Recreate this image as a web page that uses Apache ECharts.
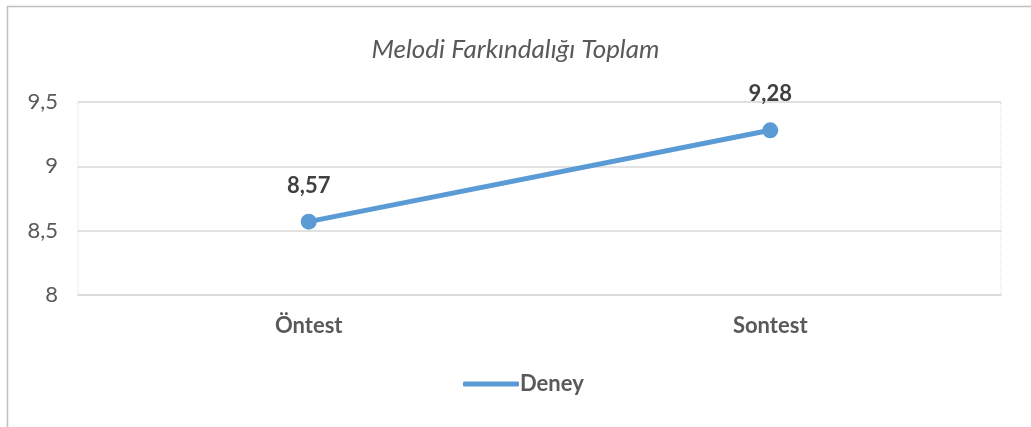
<!DOCTYPE html>
<html>
<head>
    <meta charset="utf-8">
    <title>ECharts</title>
    <script src="https://cdn.jsdelivr.net/npm/echarts@6/dist/echarts.min.js"></script>
</head>
<body style="margin:0">
    <div id="main" style="width:1031px;height:427px;"></div>
    <script type="text/javascript">
        var categories = ['Öntest', 'Sontest'];
        var seriesName = 'Deney';
        var values = [8.57, 9.28];
        var yMin = 8, yMax = 9.5, yStep = 0.5;

        function comma(v) {
            return String(v).replace('.', ',');
        }

        var chart = echarts.init(document.getElementById('main'));
        var option = {
            backgroundColor: '#fff',
            textStyle: { fontFamily: 'Lato' },
            title: {
                text: 'Melodi Farkındalığı Toplam',
                left: 'center',
                top: 32,
                textStyle: { fontSize: 26, fontWeight: 'normal', fontStyle: 'italic', color: '#595959', fontFamily: 'Lato' }
            },
            graphic: [{
                type: 'rect',
                shape: { x: 7.5, y: 6.5, width: 1040, height: 440 },
                style: { fill: 'none', stroke: '#bfbfbf', lineWidth: 1.5 },
                silent: true
            }],
            legend: {
                data: [seriesName],
                bottom: 27,
                left: 458,
                icon: 'roundRect',
                itemWidth: 56,
                itemHeight: 5,
                itemGap: 10,
                textStyle: { fontSize: 22, fontWeight: 'bold', color: '#595959', padding: [0, 0, 0, -4] }
            },
            grid: {
                left: 78,
                right: 30,
                top: 102,
                bottom: 132,
                show: true,
                borderColor: '#d9d9d9',
                borderWidth: 1,
                borderType: 'dotted'
            },
            xAxis: {
                type: 'category',
                data: categories,
                boundaryGap: true,
                axisLine: { lineStyle: { color: '#d9d9d9', width: 1.5 } },
                axisTick: { show: false },
                axisLabel: { margin: 20, fontSize: 22, fontWeight: 'bold', color: '#595959' }
            },
            yAxis: {
                type: 'value',
                min: yMin,
                max: yMax,
                interval: yStep,
                axisLine: { show: false },
                axisTick: { show: false },
                splitLine: { lineStyle: { color: '#d9d9d9', width: 1.5 } },
                axisLabel: { margin: 20, fontSize: 22, color: '#595959', formatter: comma }
            },
            series: [{
                name: seriesName,
                type: 'line',
                data: values,
                symbol: 'circle',
                symbolSize: 16,
                lineStyle: { color: '#5b9bd5', width: 5 },
                itemStyle: { color: '#5b9bd5' },
                label: {
                    show: true,
                    position: 'top',
                    distance: 17,
                    fontSize: 22,
                    fontWeight: 'bold',
                    color: '#404040',
                    formatter: function (p) { return comma(p.value); }
                }
            }]
        };
        chart.setOption(option);
    </script>
</body>
</html>
